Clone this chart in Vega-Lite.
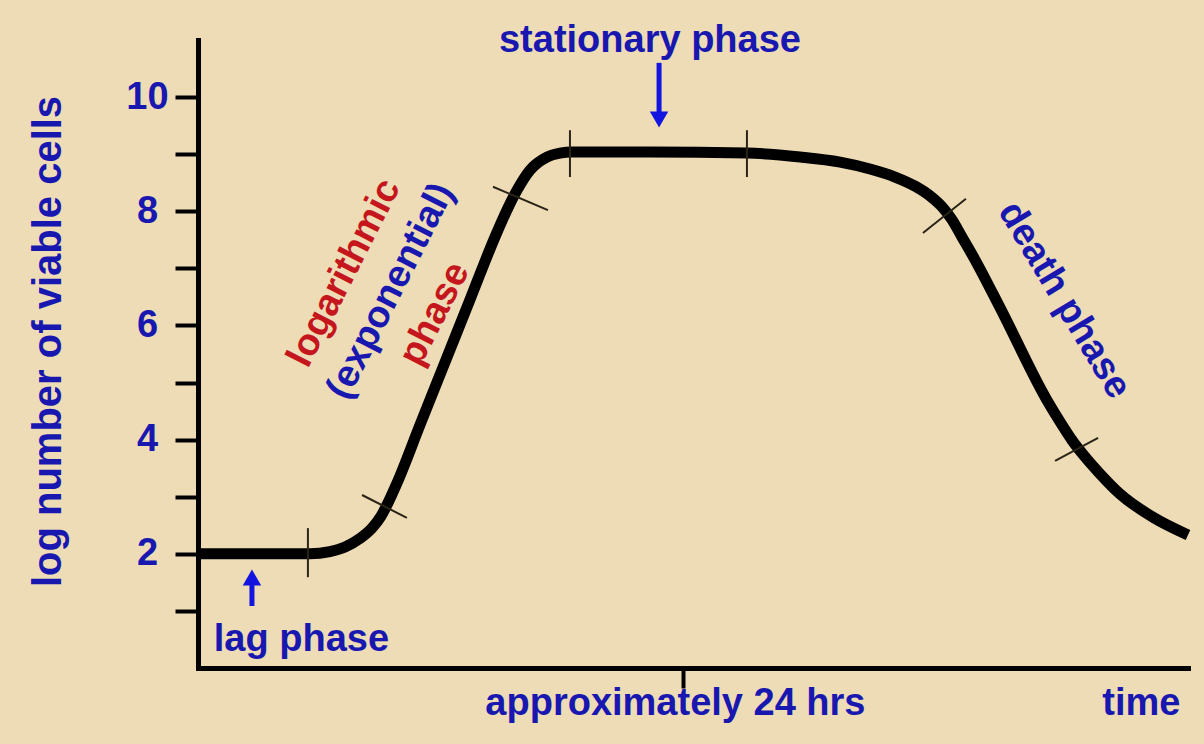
{
  "$schema": "https://vega.github.io/schema/vega-lite/v6.json",
  "width": 990,
  "height": 628,
  "autosize": {"type": "none"},
  "padding": {"left": 198, "top": 40, "right": 16, "bottom": 76},
  "background": "#eedcb6",
  "config": {
    "view": {"stroke": null},
    "font": "Liberation Sans",
    "text": {"font": "Liberation Sans", "fontWeight": "bold", "fontSize": 38}
  },
  "encoding": {
    "x": {
      "field": "t", "type": "quantitative",
      "scale": {"domain": [0, 49], "nice": false, "zero": false},
      "axis": {
        "values": [24], "grid": false,
        "labelExpr": "'approximately 24 hrs'",
        "labelFont": "Liberation Sans", "labelFontSize": 38, "labelFontWeight": "bold",
        "labelColor": "#1818b0", "labelBaseline": "alphabetic", "labelPadding": 26,
        "labelOffset": -8, "labelFlush": false, "labelOverlap": false, "labelLimit": 0,
        "tickSize": 20, "tickWidth": 4, "tickColor": "black",
        "domainColor": "black", "domainWidth": 5, "domainCap": "square",
        "title": "time", "titleFont": "Liberation Sans", "titleFontSize": 38,
        "titleFontWeight": "bold", "titleColor": "#1818b0", "titleLimit": 0,
        "titleAlign": "right", "titleBaseline": "alphabetic", "titleX": 982, "titleY": 46
      }
    },
    "y": {
      "field": "v", "type": "quantitative",
      "scale": {"domain": [0, 11], "nice": false, "zero": false},
      "axis": {
        "values": [1, 2, 3, 4, 5, 6, 7, 8, 9, 10], "grid": false,
        "labelExpr": "datum.value % 2 == 0 ? datum.label : ''",
        "labelFont": "Liberation Sans", "labelFontSize": 38, "labelFontWeight": "bold",
        "labelColor": "#1818b0", "labelAlign": "center", "labelBaseline": "middle",
        "labelPadding": 28, "labelOverlap": false, "labelLimit": 0,
        "tickSize": 23, "tickWidth": 4, "tickColor": "black",
        "domainColor": "black", "domainWidth": 5, "domainCap": "square",
        "title": "log number of viable cells", "titleFont": "Liberation Sans",
        "titleFontSize": 40, "titleFontWeight": "bold", "titleColor": "#1818b0", "titleLimit": 0,
        "titleAngle": -90, "titleAlign": "center", "titleBaseline": "alphabetic",
        "titleX": -138, "titleY": 301
      }
    }
  },
  "layer": [
    {
      "data": {"values": [
        {"t": 0, "v": 2.0}, {"t": 5.54, "v": 2.0}, {"t": 6.53, "v": 2.04}, {"t": 7.28, "v": 2.12},
        {"t": 8.02, "v": 2.27}, {"t": 8.61, "v": 2.45}, {"t": 9.06, "v": 2.66}, {"t": 9.40, "v": 2.89},
        {"t": 9.85, "v": 3.24}, {"t": 10.99, "v": 4.26}, {"t": 12.23, "v": 5.36}, {"t": 13.46, "v": 6.45},
        {"t": 14.70, "v": 7.55}, {"t": 15.29, "v": 8.02}, {"t": 15.79, "v": 8.37}, {"t": 16.43, "v": 8.72},
        {"t": 17.27, "v": 8.95}, {"t": 17.92, "v": 9.02}, {"t": 18.51, "v": 9.04}, {"t": 22.37, "v": 9.04},
        {"t": 27.17, "v": 9.02}, {"t": 29.80, "v": 8.95}, {"t": 31.78, "v": 8.86}, {"t": 33.26, "v": 8.74},
        {"t": 34.50, "v": 8.60}, {"t": 35.49, "v": 8.44}, {"t": 36.23, "v": 8.27}, {"t": 36.82, "v": 8.08},
        {"t": 37.32, "v": 7.85}, {"t": 37.81, "v": 7.55}, {"t": 38.46, "v": 7.15}, {"t": 39.70, "v": 6.31},
        {"t": 42.02, "v": 4.69}, {"t": 42.67, "v": 4.31}, {"t": 43.26, "v": 3.99}, {"t": 43.90, "v": 3.70},
        {"t": 44.65, "v": 3.40}, {"t": 45.63, "v": 3.05}, {"t": 47.27, "v": 2.64}, {"t": 49.00, "v": 2.33}
      ]},
      "mark": {"type": "line", "interpolate": "monotone", "color": "black", "strokeWidth": 11, "strokeCap": "butt", "strokeJoin": "round"},
      "encoding": {}
    },
    {
      "data": {"values": [
        {"t": 5.44, "v": 2.45, "t2": 5.44, "v2": 1.59},
        {"t": 8.12, "v": 3.03, "t2": 10.34, "v2": 2.63},
        {"t": 14.60, "v": 8.43, "t2": 17.32, "v2": 8.02},
        {"t": 18.41, "v": 9.42, "t2": 18.41, "v2": 8.60},
        {"t": 27.17, "v": 9.42, "t2": 27.17, "v2": 8.60},
        {"t": 35.88, "v": 7.62, "t2": 38.01, "v2": 8.22},
        {"t": 42.42, "v": 3.63, "t2": 44.55, "v2": 4.03}
      ]},
      "mark": {"type": "rule", "color": "#2a2418", "strokeWidth": 2},
      "encoding": {"x2": {"field": "t2"}, "y2": {"field": "v2"}}
    },
    {
      "data": {"values": [
        {"t": 22.82, "v": 10.60, "v2": 9.67},
        {"t": 2.67, "v": 1.086, "v2": 1.49}
      ]},
      "mark": {"type": "rule", "color": "#1414e0", "strokeWidth": 5},
      "encoding": {"y2": {"field": "v2"}}
    },
    {
      "data": {"values": [{"t": 22.82, "v": 9.606}]},
      "mark": {"type": "point", "shape": "triangle-down", "filled": true, "color": "#1414e0", "size": 340, "opacity": 1},
      "encoding": {}
    },
    {
      "data": {"values": [{"t": 2.67, "v": 1.587}]},
      "mark": {"type": "point", "shape": "triangle-up", "filled": true, "color": "#1414e0", "size": 340, "opacity": 1},
      "encoding": {}
    },
    {
      "data": {"values": [
        {"t": 22.37, "v": 10.79, "label": "stationary phase"},
        {"t": 5.12, "v": 0.30, "label": "lag phase"}
      ]},
      "mark": {"type": "text", "align": "center", "baseline": "alphabetic", "color": "#1818b0"},
      "encoding": {"text": {"field": "label"}}
    },
    {
      "data": {"values": [
        {"t": 7.25, "v": 6.92, "label": "logarithmic"},
        {"t": 11.73, "v": 6.20, "label": "phase"}
      ]},
      "mark": {"type": "text", "align": "center", "baseline": "middle", "angle": -63, "color": "#c4161c"},
      "encoding": {"text": {"field": "label"}}
    },
    {
      "data": {"values": [
        {"t": 9.55, "v": 6.60, "label": "(exponential)"}
      ]},
      "mark": {"type": "text", "align": "center", "baseline": "middle", "angle": -63, "color": "#1818b0"},
      "encoding": {"text": {"field": "label"}}
    },
    {
      "data": {"values": [
        {"t": 42.86, "v": 6.44, "label": "death phase"}
      ]},
      "mark": {"type": "text", "align": "center", "baseline": "middle", "angle": 59, "color": "#1818b0"},
      "encoding": {"text": {"field": "label"}}
    }
  ]
}
